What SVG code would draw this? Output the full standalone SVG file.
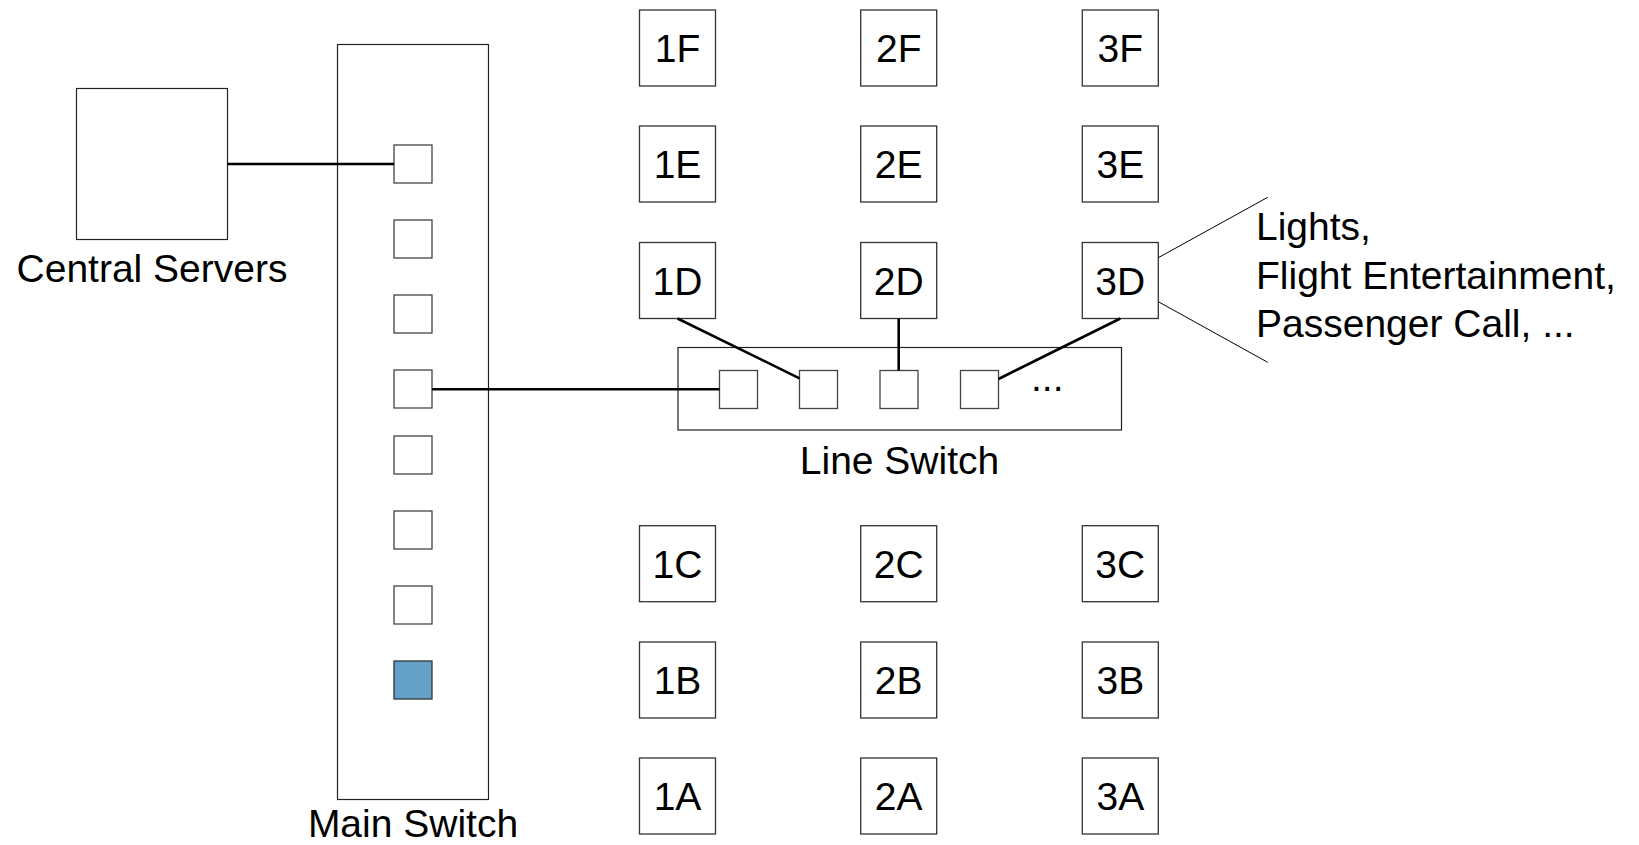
<svg xmlns="http://www.w3.org/2000/svg" width="1639" height="845" viewBox="0 0 1639 845">
  <style>
    text { font-family: "Liberation Sans", Arial, Helvetica, sans-serif; font-size: 39px; fill: #000; }
    .box { fill: #fff; stroke: #222; stroke-width: 1.2; }
    .port { fill: #fff; stroke: #444; stroke-width: 1.3; }
    .port.active { fill: #64A0C8; stroke: #333; }
    .seat { fill: #fff; stroke: #333; stroke-width: 1.3; }
    .seat-label { text-anchor: middle; }
    .wire { stroke: #000; stroke-width: 2.6; fill: none; }
    .callout { stroke: #000; stroke-width: 1; fill: none; }
  </style>
  <rect x="0" y="0" width="1639" height="845" fill="#fff"/>

  <!-- Central servers -->
  <g id="central-servers">
    <rect class="box" x="76.5" y="88.5" width="151" height="151"/>
    <text x="152" y="282" text-anchor="middle">Central Servers</text>
  </g>

  <!-- Main switch with its ports -->
  <g id="main-switch">
    <rect class="box" x="337.5" y="44.5" width="151" height="755"/>
    <rect class="port" x="394" y="145" width="38" height="38"/>
    <rect class="port" x="394" y="220" width="38" height="38"/>
    <rect class="port" x="394" y="295" width="38" height="38"/>
    <rect class="port" x="394" y="370" width="38" height="38"/>
    <rect class="port" x="394" y="436" width="38" height="38"/>
    <rect class="port" x="394" y="511" width="38" height="38"/>
    <rect class="port" x="394" y="586" width="38" height="38"/>
    <rect class="port active" x="394" y="661" width="38" height="38"/>
    <text x="413" y="837" text-anchor="middle">Main Switch</text>
  </g>

  <!-- Line switch with its ports -->
  <g id="line-switch">
    <rect class="box" x="678" y="347.5" width="443.5" height="82.5"/>
    <rect class="port" x="719.5" y="370.5" width="38" height="38"/>
    <rect class="port" x="799.5" y="370.5" width="38" height="38"/>
    <rect class="port" x="880" y="370.5" width="38" height="38"/>
    <rect class="port" x="960.5" y="370.5" width="38" height="38"/>
    <text x="1031" y="391">...</text>
    <text x="899.5" y="474" text-anchor="middle">Line Switch</text>
  </g>

  <!-- Seats: columns 1-3, rows A-F -->
  <g id="seat-1F"><rect class="seat" x="639.5" y="10" width="76" height="76"/><text class="seat-label" x="677.5" y="62">1F</text></g>
  <g id="seat-2F"><rect class="seat" x="860.7" y="10" width="76" height="76"/><text class="seat-label" x="898.7" y="62">2F</text></g>
  <g id="seat-3F"><rect class="seat" x="1082.3" y="10" width="76" height="76"/><text class="seat-label" x="1120.3" y="62">3F</text></g>

  <g id="seat-1E"><rect class="seat" x="639.5" y="126" width="76" height="76"/><text class="seat-label" x="677.5" y="178">1E</text></g>
  <g id="seat-2E"><rect class="seat" x="860.7" y="126" width="76" height="76"/><text class="seat-label" x="898.7" y="178">2E</text></g>
  <g id="seat-3E"><rect class="seat" x="1082.3" y="126" width="76" height="76"/><text class="seat-label" x="1120.3" y="178">3E</text></g>

  <g id="seat-1D"><rect class="seat" x="639.5" y="242.5" width="76" height="76"/><text class="seat-label" x="677.5" y="294.5">1D</text></g>
  <g id="seat-2D"><rect class="seat" x="860.7" y="242.5" width="76" height="76"/><text class="seat-label" x="898.7" y="294.5">2D</text></g>
  <g id="seat-3D"><rect class="seat" x="1082.3" y="242.5" width="76" height="76"/><text class="seat-label" x="1120.3" y="294.5">3D</text></g>

  <g id="seat-1C"><rect class="seat" x="639.5" y="525.7" width="76" height="76"/><text class="seat-label" x="677.5" y="577.7">1C</text></g>
  <g id="seat-2C"><rect class="seat" x="860.7" y="525.7" width="76" height="76"/><text class="seat-label" x="898.7" y="577.7">2C</text></g>
  <g id="seat-3C"><rect class="seat" x="1082.3" y="525.7" width="76" height="76"/><text class="seat-label" x="1120.3" y="577.7">3C</text></g>

  <g id="seat-1B"><rect class="seat" x="639.5" y="642" width="76" height="76"/><text class="seat-label" x="677.5" y="694">1B</text></g>
  <g id="seat-2B"><rect class="seat" x="860.7" y="642" width="76" height="76"/><text class="seat-label" x="898.7" y="694">2B</text></g>
  <g id="seat-3B"><rect class="seat" x="1082.3" y="642" width="76" height="76"/><text class="seat-label" x="1120.3" y="694">3B</text></g>

  <g id="seat-1A"><rect class="seat" x="639.5" y="758" width="76" height="76"/><text class="seat-label" x="677.5" y="810">1A</text></g>
  <g id="seat-2A"><rect class="seat" x="860.7" y="758" width="76" height="76"/><text class="seat-label" x="898.7" y="810">2A</text></g>
  <g id="seat-3A"><rect class="seat" x="1082.3" y="758" width="76" height="76"/><text class="seat-label" x="1120.3" y="810">3A</text></g>

  <!-- Seat services note -->
  <g id="seat-services">
    <text x="1256" y="240">Lights,</text>
    <text x="1256" y="288.5">Flight Entertainment,</text>
    <text x="1256" y="337">Passenger Call, ...</text>
  </g>

  <!-- Connections -->
  <g id="connectors">
    <line class="wire" x1="227.7" y1="164" x2="394" y2="164"/>
    <line class="wire" x1="432" y1="389.3" x2="719.5" y2="389.3"/>
    <line class="wire" x1="677.5" y1="318.5" x2="799.5" y2="378.3"/>
    <line class="wire" x1="898.7" y1="318.5" x2="898.7" y2="370.5"/>
    <line class="wire" x1="1120.3" y1="318.5" x2="998.5" y2="379"/>
    <line class="callout" x1="1158.3" y1="257.7" x2="1267.7" y2="197.3"/>
    <line class="callout" x1="1158.3" y1="301.7" x2="1267.7" y2="362.3"/>
  </g>
</svg>
